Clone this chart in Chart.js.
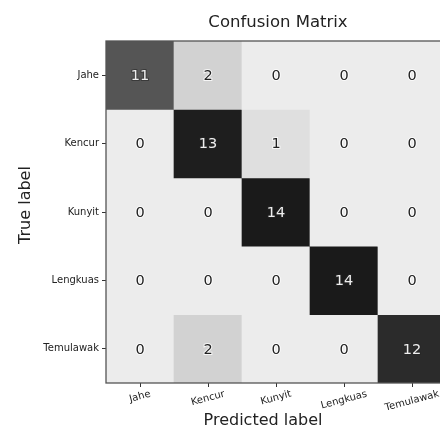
<!DOCTYPE html>
<html>
<head>
<meta charset="utf-8">
<script src="https://cdn.jsdelivr.net/npm/chart.js@4.4.1/dist/chart.umd.min.js"></script>
<style>
  html, body { margin: 0; padding: 0; background: #fff; }
  #wrap { width: 440px; height: 428px; overflow: hidden; position: relative; }
</style>
</head>
<body>
<div id="wrap"><canvas id="chart" width="452" height="428"></canvas></div>
<script>
// labels
const predictedLabels = ['Jahe', 'Kencur', 'Kunyit', 'Lengkuas', 'Temulawak'];
const trueLabels = ['Jahe', 'Kencur', 'Kunyit', 'Lengkuas', 'Temulawak'];

// one row per true label
const rowJahe = [11, 2, 0, 0, 0];
const rowKencur = [0, 13, 1, 0, 0];
const rowKunyit = [0, 0, 14, 0, 0];
const rowLengkuas = [0, 0, 0, 14, 0];
const rowTemulawak = [0, 2, 0, 0, 12];
const rows = [rowJahe, rowKencur, rowKunyit, rowLengkuas, rowTemulawak];

const FONT = '"DejaVu Sans", sans-serif';

// grey ramp, value -> grey level
const greyStops = [[0, 236], [2, 210], [11, 85], [12, 43], [13, 30], [14, 26]];
function greyFor(v) {
  for (let k = 1; k < greyStops.length; k++) {
    if (v <= greyStops[k][0]) {
      const a = greyStops[k - 1], b = greyStops[k];
      const g = Math.round(a[1] + (b[1] - a[1]) * (v - a[0]) / (b[0] - a[0]));
      return 'rgb(' + g + ',' + g + ',' + g + ')';
    }
  }
  return 'rgb(26,26,26)';
}

var datasets = rows.map((row, i) => ({
  label: trueLabels[i],
  data: row.map(() => [i - 0.5, i + 0.5]),
  backgroundColor: row.map(greyFor),
  borderWidth: 0,
  barPercentage: 1,
  categoryPercentage: 1,
  grouped: false
}));

// texts + frame
const matrixText = {
  id: 'matrixText',
  afterDatasetsDraw(chart) {
    const ctx = chart.ctx;
    const xs = chart.scales.x, ys = chart.scales.y;
    const area = chart.chartArea;
    ctx.save();

    // frame
    ctx.strokeStyle = '#555';
    ctx.lineWidth = 1.3;
    ctx.strokeRect(area.left, area.top, area.right - area.left, area.bottom - area.top);

    // cell numbers
    ctx.font = '14.5px ' + FONT;
    ctx.textAlign = 'center';
    ctx.textBaseline = 'middle';
    rows.forEach((row, i) => {
      row.forEach((v, j) => {
        const x = xs.getPixelForValue(j);
        const y = ys.getPixelForValue(i);
        const dark = v > 7;
        ctx.lineWidth = 2;
        ctx.strokeStyle = dark ? 'rgba(40,40,40,0.6)' : 'rgba(255,255,255,0.8)';
        ctx.strokeText(String(v), x, y + 1);
        ctx.fillStyle = dark ? '#eeeeee' : '#222222';
        ctx.fillText(String(v), x, y + 1);
      });
    });

    // rotated x tick labels
    ctx.font = '10px ' + FONT;
    ctx.fillStyle = '#222';
    const ang = 15 * Math.PI / 180;
    predictedLabels.forEach((lab, j) => {
      const w = ctx.measureText(lab).width;
      const h = 10;
      const bh = w * Math.sin(ang) + h * Math.cos(ang);
      const x = xs.getPixelForValue(j);
      const y = area.bottom + 6 + bh / 2;
      ctx.save();
      ctx.translate(x, y);
      ctx.rotate(-ang);
      ctx.textAlign = 'center';
      ctx.textBaseline = 'middle';
      ctx.fillText(lab, 0, 0);
      ctx.restore();
    });

    // title
    ctx.fillStyle = '#222';
    ctx.textAlign = 'center';
    ctx.textBaseline = 'alphabetic';
    ctx.font = '16.5px ' + FONT;
    ctx.fillText('Confusion Matrix', 278, 27);

    // axis titles
    ctx.font = '16px ' + FONT;
    ctx.fillText('Predicted label', 263, 425);
    ctx.save();
    ctx.translate(30, 205);
    ctx.rotate(-Math.PI / 2);
    ctx.fillText('True label', 0, 0);
    ctx.restore();

    ctx.restore();
  }
};

function drawChart() {
  var ctx = document.getElementById('chart').getContext('2d');
  new Chart(ctx, {
    type: 'bar',
    data: { labels: predictedLabels, datasets: datasets },
    plugins: [matrixText],
    options: {
      responsive: false,
      animation: false,
      devicePixelRatio: 1,
      layout: { padding: { top: 41, right: 6, left: 0, bottom: 0 } },
      plugins: {
        legend: { display: false },
        title: { display: false },
        tooltip: { enabled: false }
      },
      scales: {
        x: {
          type: 'category',
          offset: true,
          ticks: { display: false },
          grid: { drawOnChartArea: false, drawTicks: true, tickLength: 4, color: '#333', offset: false },
          border: { display: false },
          afterFit: s => { s.height = 45; }
        },
        y: {
          type: 'linear',
          min: -0.5,
          max: 4.5,
          reverse: true,
          afterBuildTicks: s => { s.ticks = trueLabels.map((_, i) => ({ value: i })); },
          ticks: {
            callback: v => trueLabels[v],
            font: { family: FONT, size: 10 },
            color: '#222',
            padding: 3
          },
          grid: { drawOnChartArea: false, drawTicks: true, tickLength: 4, color: '#333' },
          border: { display: false },
          afterFit: s => { s.width = 106; }
        }
      }
    }
  });
}

window.onload = function() {
  drawChart();
};
</script>
</body>
</html>
